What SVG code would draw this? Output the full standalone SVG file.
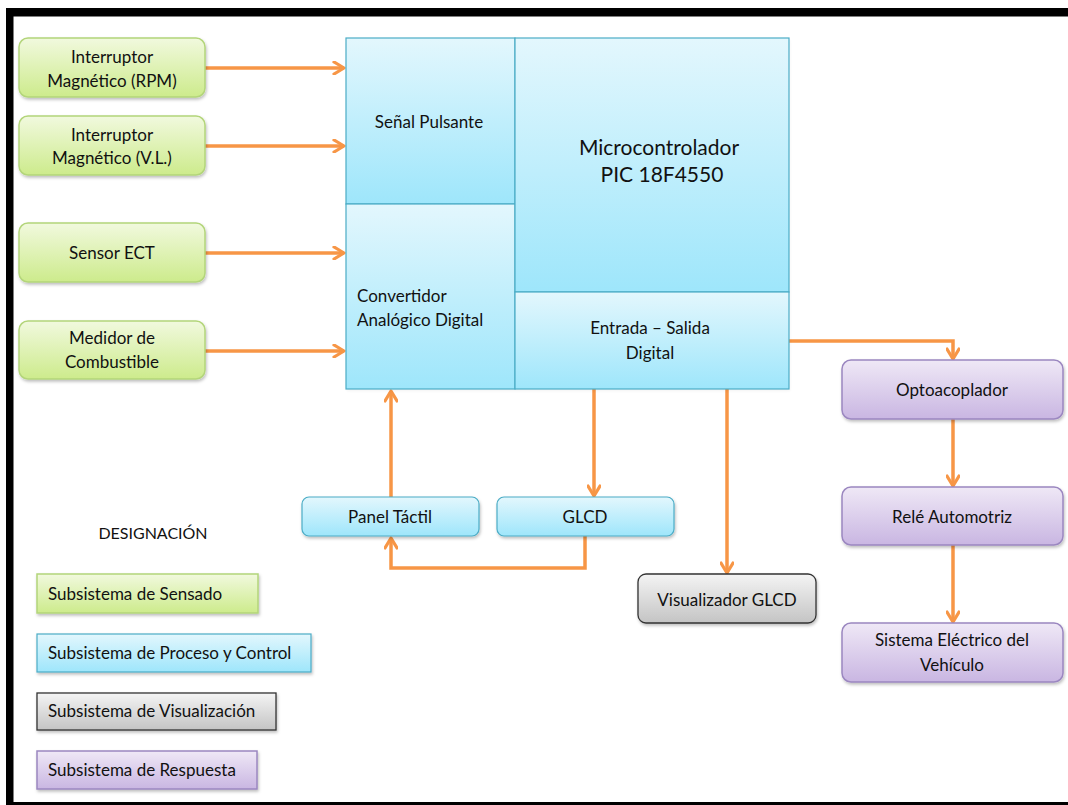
<svg xmlns="http://www.w3.org/2000/svg" width="1068" height="805" viewBox="0 0 1068 805">
  <defs>
    <linearGradient id="gGreen" x1="0" y1="0" x2="0" y2="1">
      <stop offset="0" stop-color="#f1f9de"/>
      <stop offset="1" stop-color="#cdeb8c"/>
    </linearGradient>
    <linearGradient id="gCyan" x1="0" y1="0" x2="0" y2="1">
      <stop offset="0" stop-color="#e3f7fd"/>
      <stop offset="1" stop-color="#9ee6fb"/>
    </linearGradient>
    <linearGradient id="gGray" x1="0" y1="0" x2="0" y2="1">
      <stop offset="0" stop-color="#f4f4f4"/>
      <stop offset="1" stop-color="#c4c4c4"/>
    </linearGradient>
    <linearGradient id="gPurple" x1="0" y1="0" x2="0" y2="1">
      <stop offset="0" stop-color="#efe8f6"/>
      <stop offset="1" stop-color="#c9b6e2"/>
    </linearGradient>
    <filter id="sh" x="-10%" y="-10%" width="120%" height="130%">
      <feDropShadow dx="1" dy="2" stdDeviation="1.5" flood-color="#000" flood-opacity="0.25"/>
    </filter>
    <marker id="arr" viewBox="0 0 14 14" refX="12" refY="7" markerWidth="14" markerHeight="14" markerUnits="userSpaceOnUse" orient="auto">
      <path d="M2,1 L12,7 L2,13" fill="none" stroke="#f79646" stroke-width="3.2" stroke-linecap="round" stroke-linejoin="round"/>
    </marker>
  </defs>
  <style>
    text { font-family: Lato, "Liberation Sans", sans-serif; fill: #111; font-size: 17px; }
    .c { text-anchor: middle; }
    .green { fill: url(#gGreen); stroke: #b3d57a; stroke-width: 1.5; filter: url(#sh); }
    .cyan { fill: url(#gCyan); stroke: #4bacc6; stroke-width: 1.2; }
    .cyanbox { fill: url(#gCyan); stroke: #4bacc6; stroke-width: 1.2; filter: url(#sh); }
    .gray { fill: url(#gGray); stroke: #333; stroke-width: 1.3; filter: url(#sh); }
    .purple { fill: url(#gPurple); stroke: #9b87c0; stroke-width: 1.5; filter: url(#sh); }
    .conn { fill: none; stroke: #f79646; stroke-width: 3.5; marker-end: url(#arr); }
  </style>
  <rect x="0" y="0" width="1068" height="805" fill="#ffffff"/>
  <g id="frame">
    <rect x="6" y="8" width="1062" height="8.5" fill="#000"/>
    <rect x="6" y="8" width="7.5" height="797" fill="#000"/>
    <rect x="6" y="802" width="1062" height="3" fill="#000"/>
  </g>

  <g id="connectors">
    <line class="conn" x1="205" y1="68" x2="344" y2="68"/>
    <line class="conn" x1="205" y1="146" x2="344" y2="146"/>
    <line class="conn" x1="205" y1="253" x2="344" y2="253"/>
    <line class="conn" x1="205" y1="351" x2="344" y2="351"/>
    <polyline class="conn" points="789,341 953,341 953,359"/>
    <line class="conn" x1="953" y1="419" x2="953" y2="486"/>
    <line class="conn" x1="953" y1="545" x2="953" y2="622"/>
    <line class="conn" x1="391" y1="497" x2="391" y2="391"/>
    <line class="conn" x1="594" y1="389" x2="594" y2="496"/>
    <polyline class="conn" points="585,536 585,568 391,568 391,538"/>
    <line class="conn" x1="727" y1="389" x2="727" y2="573"/>
  </g>

  <g id="sensor-rpm">
    <rect class="green" x="19" y="38" width="186" height="59" rx="9"/>
    <text class="c" x="112" y="63">Interruptor</text>
    <text class="c" x="112" y="87">Magnético (RPM)</text>
  </g>
  <g id="sensor-vl">
    <rect class="green" x="19" y="116" width="186" height="59" rx="9"/>
    <text class="c" x="112" y="141">Interruptor</text>
    <text class="c" x="112" y="164">Magnético (V.L.)</text>
  </g>
  <g id="sensor-ect">
    <rect class="green" x="19" y="223" width="186" height="59" rx="9"/>
    <text class="c" x="112" y="259">Sensor ECT</text>
  </g>
  <g id="sensor-combustible">
    <rect class="green" x="19" y="321" width="186" height="58" rx="9"/>
    <text class="c" x="112" y="344">Medidor de</text>
    <text class="c" x="112" y="368">Combustible</text>
  </g>

  <g id="microcontrolador">
    <rect x="346" y="38" width="443" height="351" fill="#000" opacity="0.2" filter="url(#sh)"/>
    <rect class="cyan" x="346" y="38" width="169" height="166"/>
    <rect class="cyan" x="346" y="204" width="169" height="185"/>
    <rect class="cyan" x="515" y="38" width="274" height="254"/>
    <rect class="cyan" x="515" y="292" width="274" height="97"/>
    <text class="c" x="429" y="128">Señal Pulsante</text>
    <text class="c" x="659" y="155" style="font-size:21px">Microcontrolador</text>
    <text class="c" x="662" y="182" style="font-size:21px">PIC 18F4550</text>
    <text x="357" y="302">Convertidor</text>
    <text x="357" y="326">Analógico Digital</text>
    <text class="c" x="650" y="334">Entrada – Salida</text>
    <text class="c" x="650" y="359">Digital</text>
  </g>

  <g id="panel-tactil">
    <rect class="cyanbox" x="302" y="497" width="177" height="39" rx="7"/>
    <text class="c" x="390" y="523">Panel Táctil</text>
  </g>
  <g id="glcd">
    <rect class="cyanbox" x="497" y="497" width="177" height="39" rx="7"/>
    <text class="c" x="585" y="523">GLCD</text>
  </g>
  <g id="visualizador">
    <rect class="gray" x="638" y="574" width="178" height="49" rx="8"/>
    <text class="c" x="727" y="606">Visualizador GLCD</text>
  </g>

  <g id="optoacoplador">
    <rect class="purple" x="842" y="360" width="221" height="59" rx="9"/>
    <text class="c" x="952" y="396">Optoacoplador</text>
  </g>
  <g id="rele">
    <rect class="purple" x="842" y="487" width="221" height="58" rx="9"/>
    <text class="c" x="952" y="523">Relé Automotriz</text>
  </g>
  <g id="sistema-electrico">
    <rect class="purple" x="842" y="623" width="221" height="59" rx="9"/>
    <text class="c" x="952" y="646">Sistema Eléctrico del</text>
    <text class="c" x="952" y="671">Vehículo</text>
  </g>

  <g id="legend">
    <text class="c" x="153" y="539" style="font-size:16px">DESIGNACIÓN</text>
    <rect class="green" x="37" y="574" width="221" height="39" rx="0"/>
    <text x="48" y="600">Subsistema de Sensado</text>
    <rect class="cyanbox" x="37" y="634" width="274" height="38"/>
    <text x="48" y="659">Subsistema de Proceso y Control</text>
    <rect class="gray" x="37" y="693" width="239" height="37"/>
    <text x="48" y="717">Subsistema de Visualización</text>
    <rect class="purple" x="37" y="751" width="220" height="38"/>
    <text x="48" y="776">Subsistema de Respuesta</text>
  </g>
</svg>
